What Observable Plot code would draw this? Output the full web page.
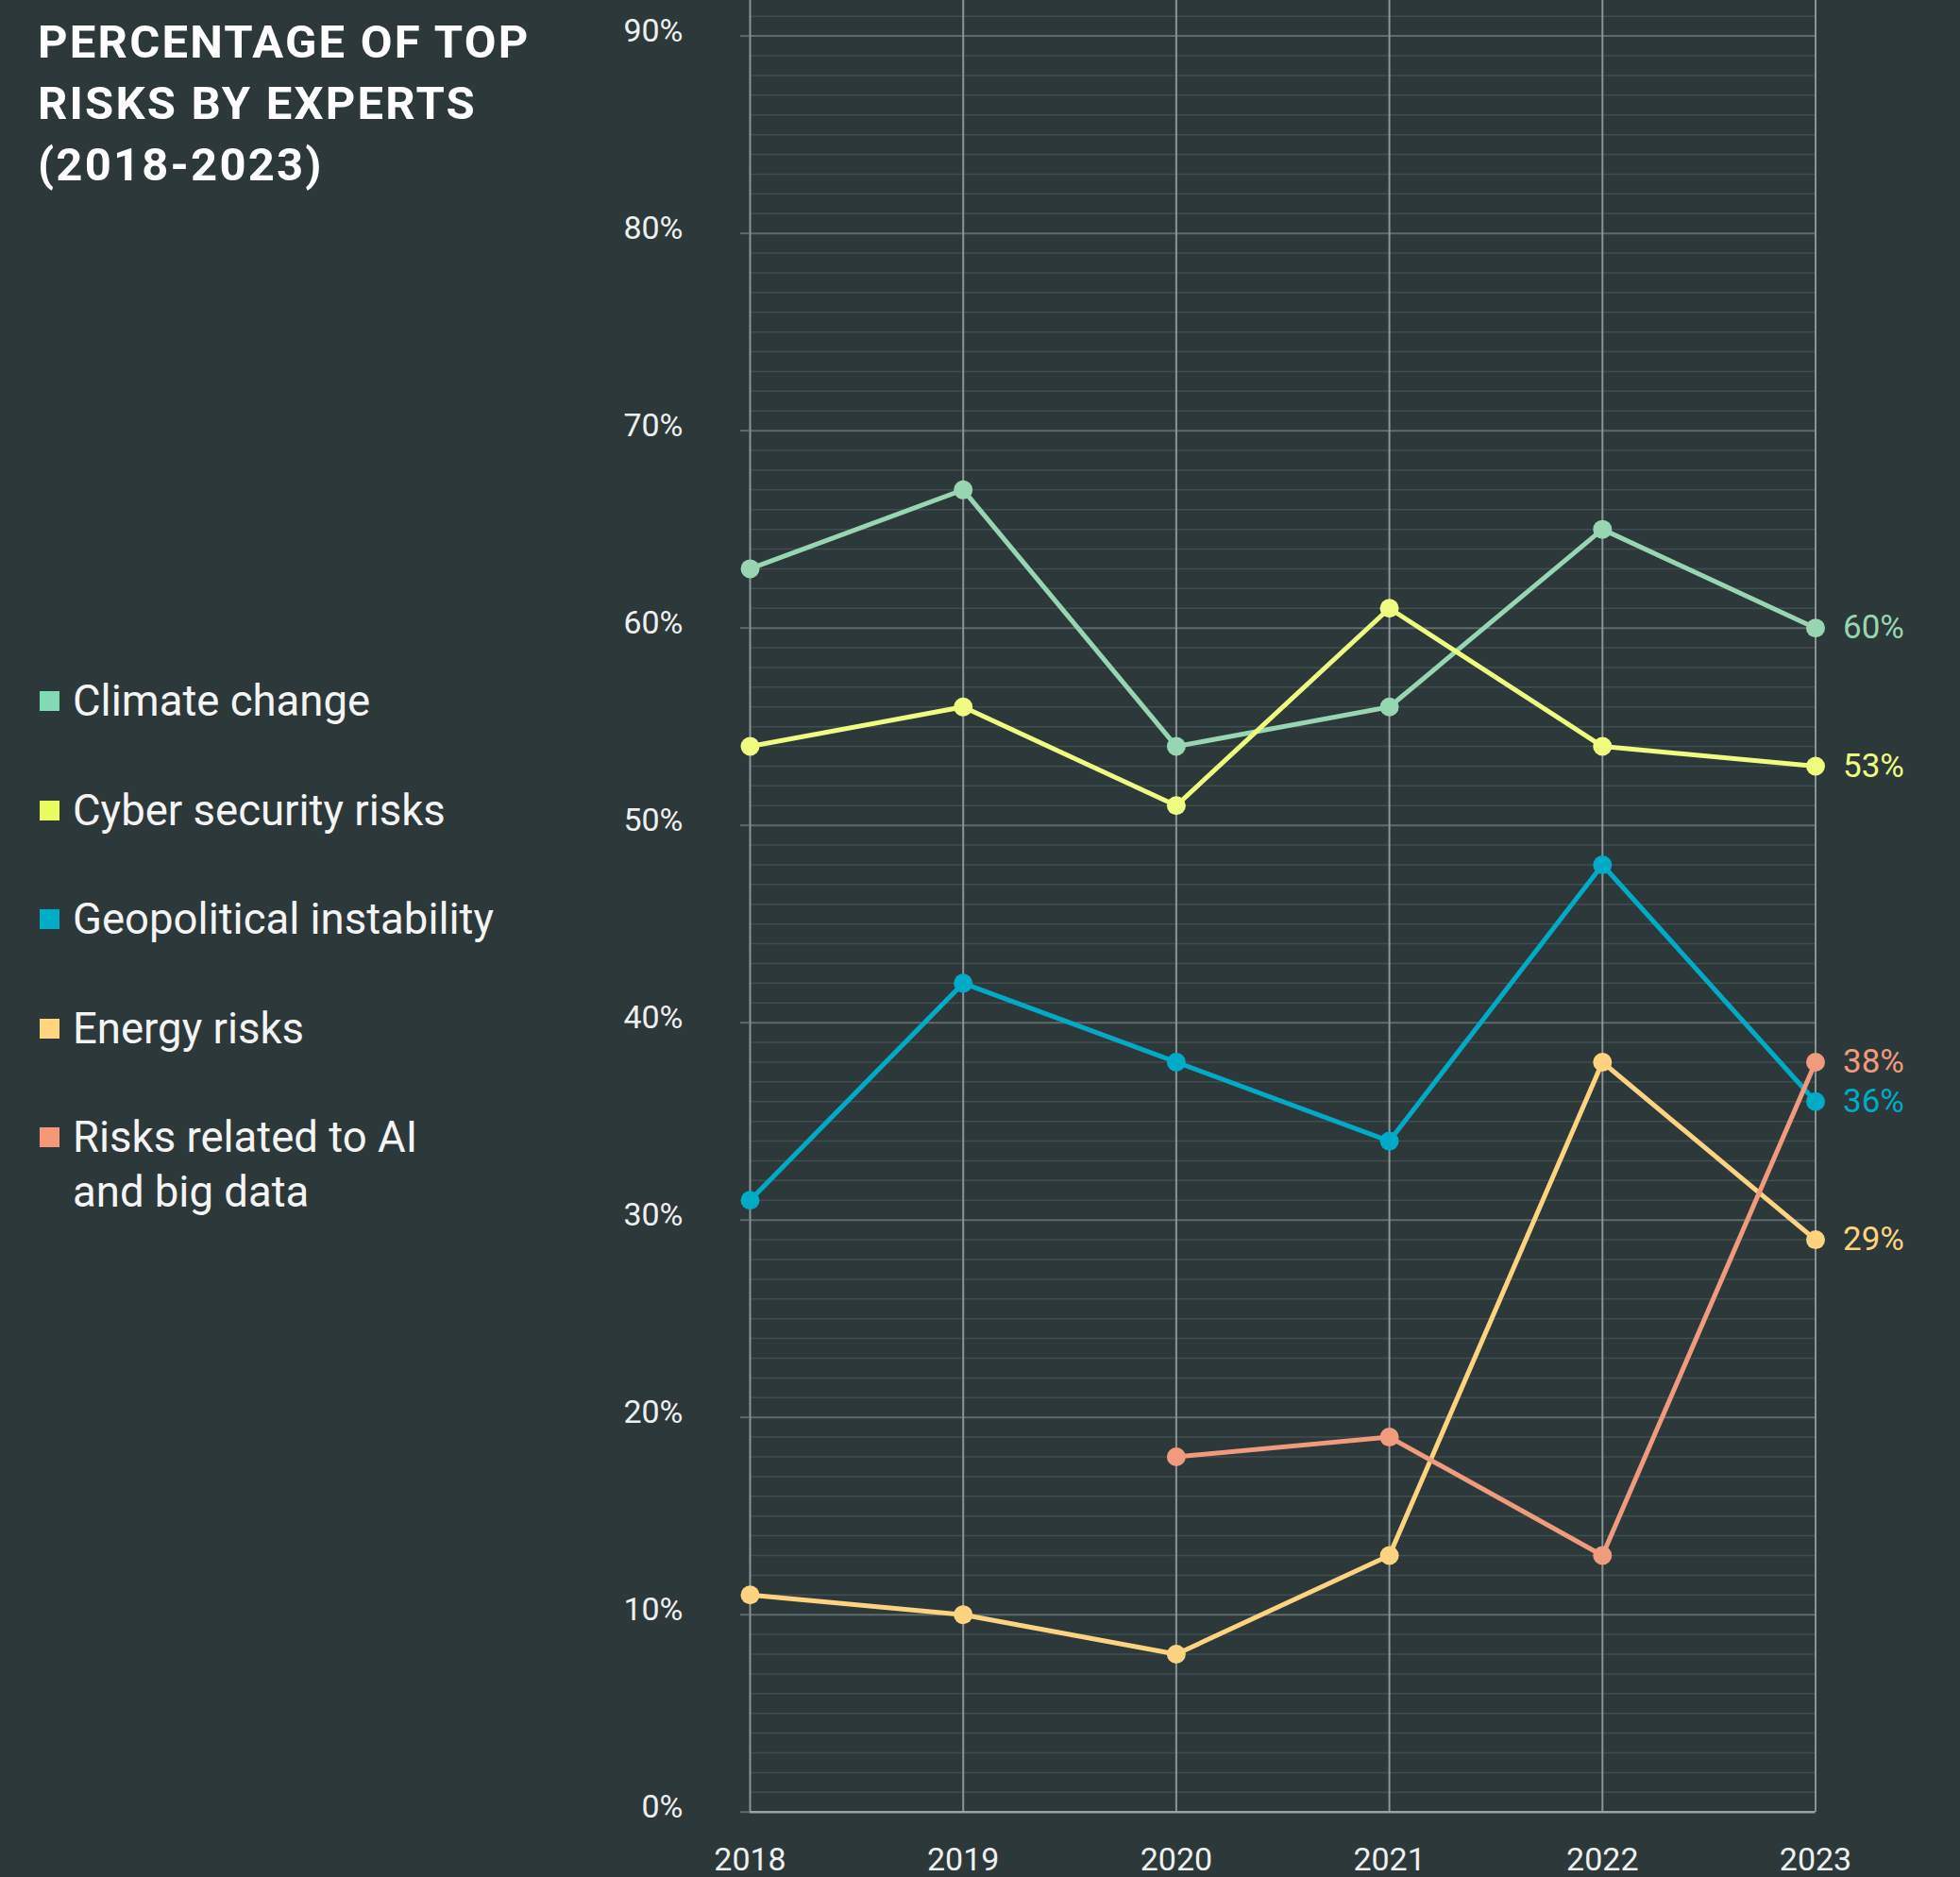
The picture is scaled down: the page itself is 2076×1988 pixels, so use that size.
<!DOCTYPE html>
<html>
<head>
<meta charset="utf-8">
<script src="https://cdn.jsdelivr.net/npm/d3@7"></script>
<script src="https://cdn.jsdelivr.net/npm/@observablehq/plot@0.6"></script>
<style>
  html, body { margin: 0; padding: 0; background: #2d383a; }
  #wrap { position: relative; width: 2076px; height: 1988px; background: #2d383a; overflow: hidden; font-family: Roboto, "Noto Sans", sans-serif; }
  #title { position: absolute; left: 40px; top: 12px; color: #ffffff; font-weight: 700; font-size: 49px; letter-spacing: 2.2px; line-height: 65px; }
  #legend { position: absolute; left: 0; top: 0; }
  .item { position: absolute; left: 42px; color: #f4f4f4; font-size: 45.5px; line-height: 57.8px; }
  .sw { position: absolute; left: 0; width: 21px; height: 21px; top: 18.4px; }
  .lab { position: absolute; left: 35px; white-space: nowrap; }
  #chart { position: absolute; left: 620px; top: 0; }
</style>
</head>
<body>
<div id="wrap">
  <div id="title">PERCENTAGE OF TOP<br>RISKS BY EXPERTS<br>(2018-2023)</div>
  <div id="legend"></div>
  <div id="chart"></div>
</div>
<script>
const years = [2018, 2019, 2020, 2021, 2022, 2023];
const seriesNames = ["Climate change", "Cyber security risks", "Geopolitical instability", "Energy risks", "Risks related to AI and big data"];
const legendLabels = ["Climate change", "Cyber security risks", "Geopolitical instability", "Energy risks", "Risks related to AI<br>and big data"];
const climate = [63, 67, 54, 56, 65, 60];
const cyber = [54, 56, 51, 61, 54, 53];
const geopolitical = [31, 42, 38, 34, 48, 36];
const energy = [11, 10, 8, 13, 38, 29];
const aiData = [null, null, 18, 19, 13, 38];
const lineColors = ["#98d5b2", "#effc80", "#00abc7", "#fdd380", "#f09a7e"];
const legendColors = ["#80dab4", "#e9fd61", "#00adc9", "#ffd580", "#f7977a"];
const yTicks = [0, 10, 20, 30, 40, 50, 60, 70, 80, 90];

const allSeries = [climate, cyber, geopolitical, energy, aiData];
const rows = [];
allSeries.forEach((vals, i) => {
  vals.forEach((v, j) => {
    if (v !== null) rows.push({series: seriesNames[i], year: years[j], value: v});
  });
});

const minor = d3.range(0, 92).filter(d => d % 10 !== 0);
const major = yTicks.filter(d => d > 0);

// legend
const legend = document.getElementById("legend");
legendLabels.forEach((lab, i) => {
  const it = document.createElement("div");
  it.className = "item";
  it.style.top = (743 + 115.5 * i - 28.9) + "px";
  it.innerHTML = `<div class="sw" style="background:${legendColors[i]}"></div><div class="lab">${lab}</div>`;
  legend.appendChild(it);
});

const chart = Plot.plot({
  width: 1456,
  height: 1988,
  marginLeft: 174,
  marginRight: 153.5,
  marginTop: 0,
  marginBottom: 69.3,
  style: {background: "transparent", color: "#eef0f0", fontFamily: "Roboto, 'Noto Sans', sans-serif", fontSize: "34px", overflow: "visible"},
  x: {domain: [2018, 2023], label: null},
  y: {domain: [0, 91.8], label: null},
  color: {domain: seriesNames, range: lineColors},
  marks: [
    Plot.ruleY(minor, {stroke: "#424d4f", strokeWidth: 1.5}),
    Plot.ruleY(major, {stroke: "#5f6a6c", strokeWidth: 2}),
    Plot.ruleX(years, {stroke: "#8b9496", strokeWidth: 2}),
    Plot.axisY(yTicks, {tickSize: 10, tickFormat: () => "", stroke: "#5f6a6c", strokeWidth: 2, label: null}),
    Plot.ruleY([0], {stroke: "#9aa2a3", strokeWidth: 2.5}),
    Plot.axisY(yTicks, {tickSize: 0, tickPadding: 71, dy: -5, fontSize: 34, tickFormat: d => d + "%", fill: "#eef0f0", label: null}),
    Plot.axisX(years, {tickSize: 0, tickPadding: 38, fontSize: 34, tickFormat: d => String(d), fill: "#eef0f0", label: null}),
    Plot.line(rows, {x: "year", y: "value", z: "series", stroke: "series", strokeWidth: 5}),
    Plot.dot(rows, {x: "year", y: "value", fill: "series", r: 10}),
    Plot.text(rows.filter(d => d.year === 2023), {x: "year", y: "value", text: d => d.value + "%", fill: "series", textAnchor: "start", dx: 29, fontSize: 35})
  ]
});
document.getElementById("chart").appendChild(chart);
</script>
</body>
</html>
